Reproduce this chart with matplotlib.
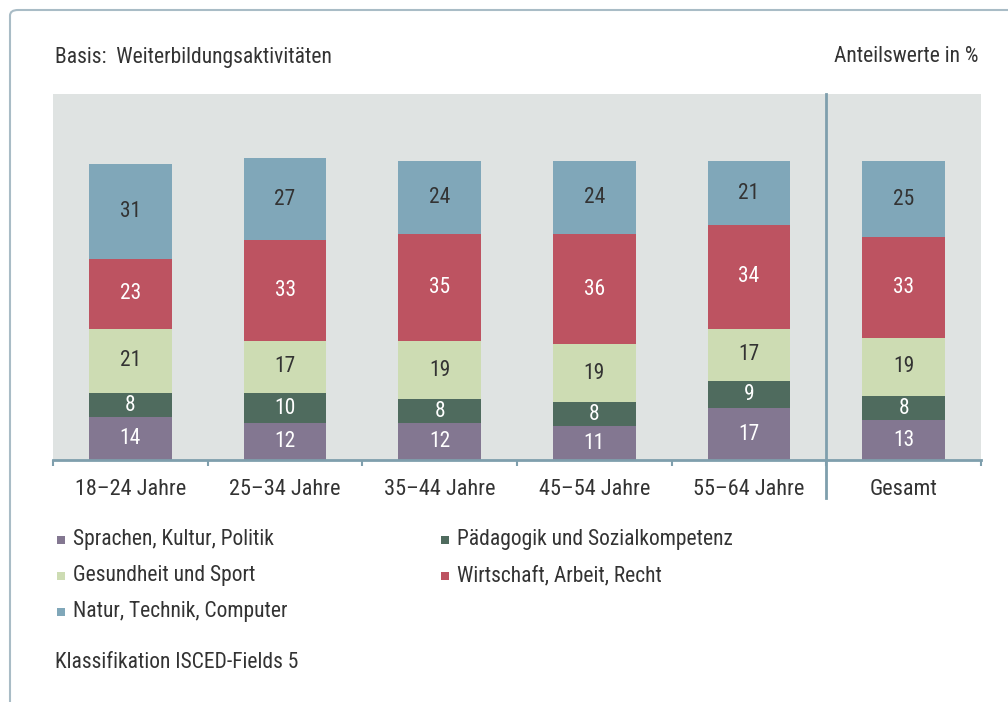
import matplotlib
matplotlib.use("Agg")
import matplotlib.pyplot as plt
from matplotlib import font_manager
from matplotlib.patches import FancyBboxPatch, Rectangle
import numpy as np

categories = ["18–24 Jahre", "25–34 Jahre", "35–44 Jahre", "45–54 Jahre", "55–64 Jahre", "Gesamt"]
series_names = ["Sprachen, Kultur, Politik", "Pädagogik und Sozialkompetenz",
                "Gesundheit und Sport", "Wirtschaft, Arbeit, Recht", "Natur, Technik, Computer"]
sprachen = [14, 12, 12, 11, 17, 13]
paedagogik = [8, 10, 8, 8, 9, 8]
gesundheit = [21, 17, 19, 19, 17, 19]
wirtschaft = [23, 33, 35, 36, 34, 33]
natur = [31, 27, 24, 24, 21, 25]
series_values = [sprachen, paedagogik, gesundheit, wirtschaft, natur]
colors = ["#837791", "#4f6b5e", "#cddcb3", "#bd5361", "#80a7b9"]
label_colors = ["white", "white", "#333333", "white", "#333333"]

available = {f.name for f in font_manager.fontManager.ttflist}
font = "DejaVu Sans"
for cand in ["Liberation Sans Narrow", "Roboto Condensed", "Open Sans Condensed", "Noto Sans Display",
             "Open Sans", "Lato", "Liberation Sans"]:
    if cand in available:
        font = cand
        break
plt.rcParams["font.family"] = [font, "DejaVu Sans"]

W, H = 1008, 702
fig = plt.figure(figsize=(W / 100, H / 100), dpi=100)
fig.patch.set_facecolor("white")

# outer frame (left + top, rounded corner)
frame = FancyBboxPatch((10 / W, -0.05), 1.2, 1 - 10 / H + 0.05,
                       boxstyle="round,pad=0,rounding_size=0.008",
                       transform=fig.transFigure, facecolor="none",
                       edgecolor="#a9bcc6", linewidth=1.5, clip_on=False)
fig.patches.append(frame)

ax_left, ax_right, ax_top, ax_bot = 53, 981, 94, 460
ax = fig.add_axes([ax_left / W, 1 - ax_bot / H, (ax_right - ax_left) / W, (ax_bot - ax_top) / H])
ax.set_facecolor("#dfe3e2")
x = np.arange(len(categories))
ax.set_xlim(-0.5, len(categories) - 0.5)
ax.set_ylim(0, 120)

bottom = np.zeros(len(categories))
for vals, c, lc in zip(series_values, colors, label_colors):
    bars = ax.bar(x, vals, width=0.535, bottom=bottom, color=c, linewidth=0, zorder=2)
    ax.bar_label(bars, labels=[str(v) for v in vals], label_type="center",
                 color=lc, fontsize=15.5)
    bottom += np.array(vals)

for s in ax.spines.values():
    s.set_visible(False)
axis_color = "#7f9fad"
ax.axhline(0, color=axis_color, linewidth=2, zorder=3, clip_on=False)
ax.set_yticks([])
ax.set_xticks(x)
ax.set_xticklabels(categories, fontsize=16, color="#333333")
ax.tick_params(axis="x", which="major", length=0, pad=14)
ax.set_xticks(np.arange(-0.5, len(categories), 1.0), minor=True)
ax.tick_params(axis="x", which="minor", length=4.5, width=1.5, color=axis_color, direction="out")
ax.axvline(4.5, ymin=-38 / 366, ymax=1, color=axis_color, linewidth=2, clip_on=False, zorder=3)

fig.text(55 / W, 1 - 58 / H, "Basis:  Weiterbildungsaktivitäten", fontsize=15.5,
         color="#333333", va="center", ha="left")
fig.text(978 / W, 1 - 57 / H, "Anteilswerte in %", fontsize=15.5,
         color="#333333", va="center", ha="right")

# legend
leg_pos = [(57, 540), (441, 540), (57, 576), (441, 576), (57, 612)]
for name, c, (lx, ly) in zip(series_names, colors, leg_pos):
    fig.patches.append(Rectangle((lx / W, 1 - (ly + 4) / H), 8 / W, 8 / H,
                                 transform=fig.transFigure, facecolor=c, edgecolor="none"))
    fig.text((lx + 16) / W, 1 - ly / H, name, fontsize=15.5, color="#333333",
             va="center", ha="left")

fig.text(55 / W, 1 - 662 / H, "Klassifikation ISCED-Fields 5", fontsize=15.5,
         color="#333333", va="center", ha="left")

fig.savefig("out.png", dpi=100)
